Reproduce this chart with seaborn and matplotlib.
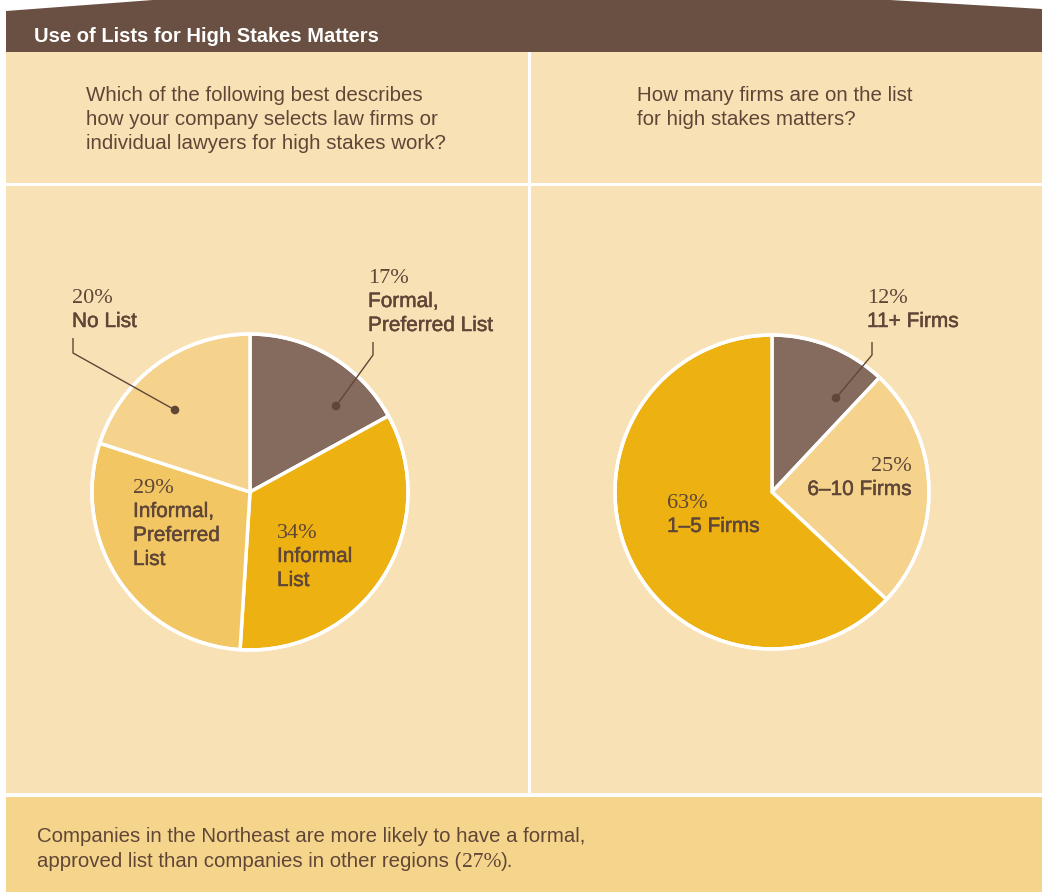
import matplotlib
matplotlib.use("Agg")
import matplotlib.pyplot as plt
from matplotlib.patches import Rectangle, Polygon, Circle
from matplotlib import font_manager
import matplotlib.patheffects as pe
import seaborn as sns

# ---- data -------------------------------------------------------------
title = "Use of Lists for High Stakes Matters"
question_left = ["Which of the following best describes",
                 "how your company selects law firms or",
                 "individual lawyers for high stakes work?"]
question_right = ["How many firms are on the list",
                  "for high stakes matters?"]
# footnote lines; the second one is split so the figure can be set in serif
footnote_1 = "Companies in the Northeast are more likely to have a formal,"
footnote_2 = ["approved list than companies in other regions (", "27%", ")."]

select_labels = ["Formal,\nPreferred List", "Informal\nList",
                 "Informal,\nPreferred\nList", "No List"]
select_values = [17, 34, 29, 20]

firm_labels = ["11+ Firms", "6\u201310 Firms", "1\u20135 Firms"]
firm_values = [12, 25, 63]

# ---- style ------------------------------------------------------------
sns.set_theme(style="white")
BROWN = "#6a5042"
PANEL = "#f8e1b5"
BAND = "#f5d48c"
TEXT = "#5f4637"
select_colors = sns.color_palette(["#846b5e", "#edb111", "#f2c663", "#f5d38d"])
firm_colors = sns.color_palette(["#846b5e", "#f5d38d", "#edb111"])

installed = {f.name for f in font_manager.fontManager.ttflist}


def pick(*names):
    for n in names:
        if n in installed:
            return n
    return "DejaVu Sans"


SANS = pick("Liberation Sans", "Noto Sans")
SERIF = pick("Liberation Serif", "DejaVu Serif")

W, H = 1042, 892
fig = plt.figure(figsize=(W / 100, H / 100), dpi=100)
fig.patch.set_facecolor("white")
ax = fig.add_axes([0, 0, 1, 1])
ax.set_xlim(0, W)
ax.set_ylim(0, H)


def Y(y):
    return H - y


def rect(x0, y0, x1, y1, color):
    ax.add_patch(Rectangle((x0, Y(y1)), x1 - x0, y1 - y0, facecolor=color,
                           edgecolor="none", zorder=0))


# header tab with sloped shoulders
top = [(6, 11), (153, 0), (890, 0), (1042, 9)]
ax.add_patch(Polygon([(6, Y(52))] + [(x, Y(y)) for x, y in top] + [(1042, Y(52))],
                     closed=True, facecolor=BROWN, edgecolor="none", zorder=0))
ax.text(34, Y(42), title, color="white", fontsize=14.5, fontweight="bold",
        family=SANS, va="baseline", ha="left")

# panels
rect(6, 52, 528, 182.5, PANEL)
rect(531, 52, 1042, 182.5, PANEL)
rect(6, 186, 528, 793, PANEL)
rect(531, 186, 1042, 793, PANEL)
rect(6, 797, 1042, 892, BAND)

for i, line in enumerate(question_left):
    ax.text(86, Y(101 + 24 * i), line, color=TEXT, fontsize=14.8, family=SANS,
            va="baseline", ha="left")
for i, line in enumerate(question_right):
    ax.text(637, Y(101 + 24 * i), line, color=TEXT, fontsize=14.8, family=SANS,
            va="baseline", ha="left")

ax.text(37, Y(842), footnote_1, color=TEXT, fontsize=14.7, family=SANS,
        va="baseline", ha="left")
renderer = fig.canvas.get_renderer()
x = 37
for k, part in enumerate(footnote_2):
    fam = SERIF if k == 1 else SANS
    size = 15.5 if k == 1 else 14.7
    t = ax.text(x, Y(867), part, color=TEXT, fontsize=size, family=fam,
                va="baseline", ha="left")
    bb = t.get_window_extent(renderer)
    x = bb.x1 + (0.5 if k == 0 else 0)

# ---- pies -------------------------------------------------------------
wp = dict(edgecolor="white", linewidth=2.5)
ax.pie(select_values, colors=select_colors, startangle=90, counterclock=False,
       center=(250, Y(492)), radius=158, wedgeprops=wp, frame=True)
ax.pie(firm_values, colors=firm_colors, startangle=90, counterclock=False,
       center=(772, Y(492)), radius=157, wedgeprops=wp, frame=True)
# white rim around each pie
for cx, r in [(250, 158), (772, 157)]:
    ax.add_patch(Circle((cx, Y(492)), r, facecolor="none", edgecolor="white",
                        linewidth=2.5, zorder=5))

heavy = [pe.withStroke(linewidth=0.35, foreground=TEXT)]


def label(x, y, pct, name, ha="left"):
    """y is the baseline of the percentage line."""
    ax.text(x, Y(y), f"{pct}%", color=TEXT, fontsize=16, family=SERIF,
            va="baseline", ha=ha, zorder=6)
    for j, part in enumerate(name.split("\n")):
        ax.text(x, Y(y + 24 * (j + 1)), part, color=TEXT, fontsize=15,
                family=SANS, va="baseline", ha=ha, zorder=6, path_effects=heavy)


def leader(pts):
    xs = [p[0] for p in pts]
    ys = [Y(p[1]) for p in pts]
    ax.plot(xs, ys, color=TEXT, lw=1.0, zorder=6, solid_capstyle="butt")
    ax.add_patch(Circle((xs[-1], ys[-1]), 3.6, color=TEXT, zorder=7))


label(368, 283, select_values[0], select_labels[0])
leader([(373, 342), (373, 355), (336, 406)])
label(277, 538, select_values[1], select_labels[1])
label(133, 493, select_values[2], select_labels[2])
label(72, 303, select_values[3], select_labels[3])
leader([(73, 338), (73, 353), (175, 410)])

label(867, 303, firm_values[0], firm_labels[0])
leader([(872, 342), (872, 355), (836, 398)])
label(912, 471, firm_values[1], firm_labels[1], ha="right")
label(667, 508, firm_values[2], firm_labels[2])

ax.set_xlim(0, W)
ax.set_ylim(0, H)
ax.axis("off")
fig.savefig("out.png", dpi=100, facecolor="white")
